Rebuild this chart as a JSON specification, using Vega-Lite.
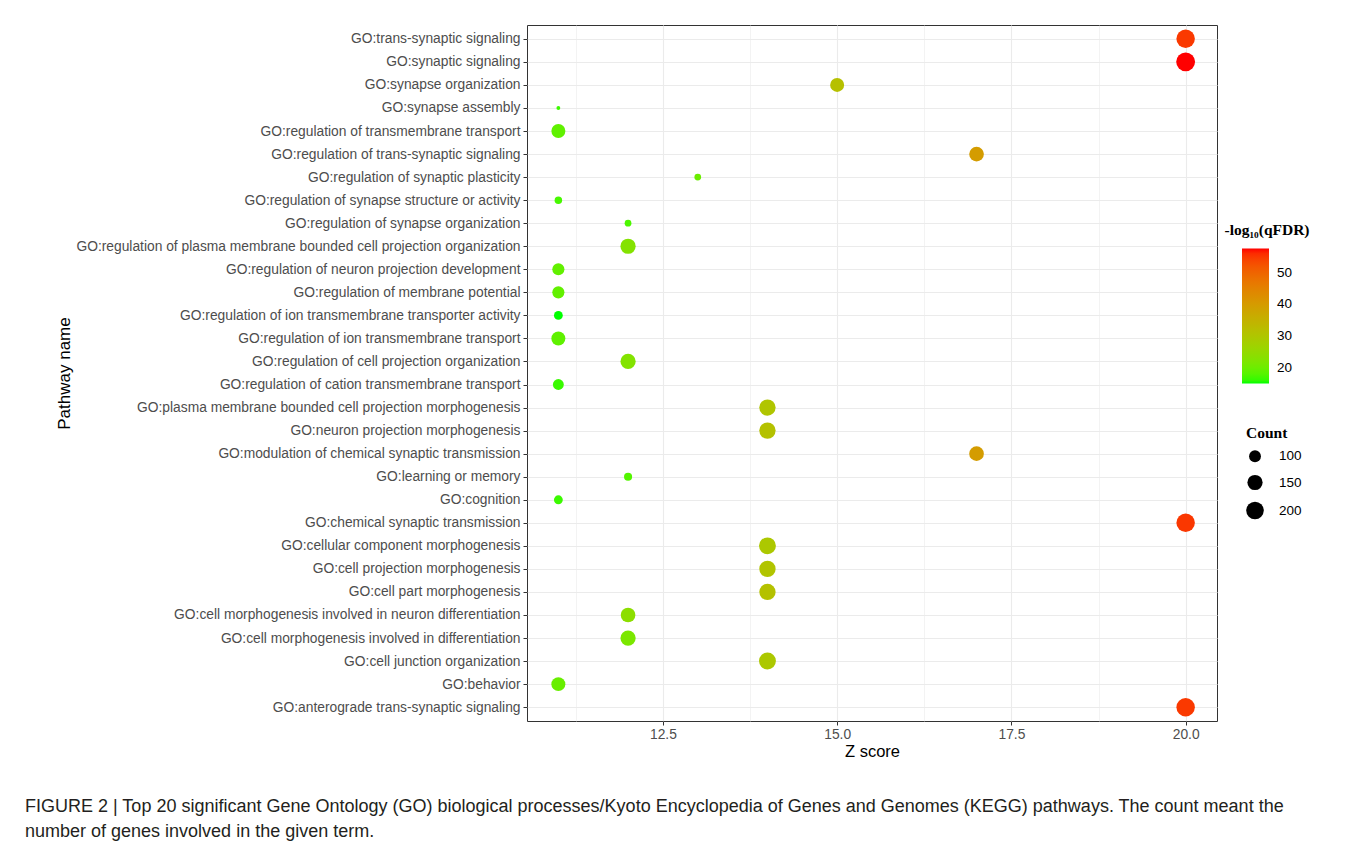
{
  "$schema": "https://vega.github.io/schema/vega-lite/v6.json",
  "width": 690,
  "height": 696,
  "autosize": "none",
  "padding": {"left": 527, "top": 25, "right": 138, "bottom": 128},
  "background": "white",
  "title": {
    "text": ["FIGURE 2 | Top 20 significant Gene Ontology (GO) biological processes/Kyoto Encyclopedia of Genes and Genomes (KEGG) pathways. The count meant the", "number of genes involved in the given term."],
    "orient": "bottom",
    "anchor": "start",
    "frame": "group",
    "dx": -502,
    "offset": 38,
    "font": "Liberation Sans Narrow, Liberation Sans",
    "fontSize": 18,
    "fontWeight": "normal",
    "color": "#231f20",
    "lineHeight": 25
  },
  "data": {
    "values": [
      {"name": "GO:trans-synaptic signaling", "z": 20, "count": 224, "q": 55.0},
      {"name": "GO:synaptic signaling", "z": 20, "count": 236, "q": 57.6},
      {"name": "GO:synapse organization", "z": 15, "count": 129, "q": 31.5},
      {"name": "GO:synapse assembly", "z": 11, "count": 47, "q": 16.5},
      {"name": "GO:regulation of transmembrane transport", "z": 11, "count": 129, "q": 18.8},
      {"name": "GO:regulation of trans-synaptic signaling", "z": 17, "count": 140, "q": 39.7},
      {"name": "GO:regulation of synaptic plasticity", "z": 13, "count": 58, "q": 19.8},
      {"name": "GO:regulation of synapse structure or activity", "z": 11, "count": 62, "q": 17.0},
      {"name": "GO:regulation of synapse organization", "z": 12, "count": 58, "q": 17.3},
      {"name": "GO:regulation of plasma membrane bounded cell projection organization", "z": 12, "count": 150, "q": 22.7},
      {"name": "GO:regulation of neuron projection development", "z": 11, "count": 103, "q": 19.0},
      {"name": "GO:regulation of membrane potential", "z": 11, "count": 103, "q": 19.0},
      {"name": "GO:regulation of ion transmembrane transporter activity", "z": 11, "count": 71, "q": 15.0},
      {"name": "GO:regulation of ion transmembrane transport", "z": 11, "count": 129, "q": 18.7},
      {"name": "GO:regulation of cell projection organization", "z": 12, "count": 150, "q": 22.6},
      {"name": "GO:regulation of cation transmembrane transport", "z": 11, "count": 89, "q": 16.3},
      {"name": "GO:plasma membrane bounded cell projection morphogenesis", "z": 14, "count": 172, "q": 30.3},
      {"name": "GO:neuron projection morphogenesis", "z": 14, "count": 172, "q": 31.2},
      {"name": "GO:modulation of chemical synaptic transmission", "z": 17, "count": 140, "q": 39.7},
      {"name": "GO:learning or memory", "z": 12, "count": 66, "q": 17.8},
      {"name": "GO:cognition", "z": 11, "count": 71, "q": 16.4},
      {"name": "GO:chemical synaptic transmission", "z": 20, "count": 224, "q": 55.2},
      {"name": "GO:cellular component morphogenesis", "z": 14, "count": 185, "q": 29.5},
      {"name": "GO:cell projection morphogenesis", "z": 14, "count": 172, "q": 30.4},
      {"name": "GO:cell part morphogenesis", "z": 14, "count": 172, "q": 31.2},
      {"name": "GO:cell morphogenesis involved in neuron differentiation", "z": 12, "count": 140, "q": 23.8},
      {"name": "GO:cell morphogenesis involved in differentiation", "z": 12, "count": 150, "q": 21.6},
      {"name": "GO:cell junction organization", "z": 14, "count": 185, "q": 29.5},
      {"name": "GO:behavior", "z": 11, "count": 129, "q": 19.5},
      {"name": "GO:anterograde trans-synaptic signaling", "z": 20, "count": 224, "q": 55.0}
    ]
  },
  "mark": {"type": "circle", "opacity": 1, "strokeWidth": 0},
  "encoding": {
    "x": {
      "field": "z",
      "type": "quantitative",
      "scale": {"domain": [10.55, 20.45], "nice": false, "zero": false},
      "axis": {
        "title": "Z score",
        "values": [11.25, 12.5, 13.75, 15, 16.25, 17.5, 18.75, 20],
        "labelExpr": "datum.value % 2.5 == 0 ? format(datum.value, '.1f') : ''",
        "tickOpacity": {"condition": {"test": "datum.value % 2.5 == 0", "value": 1}, "value": 0},
        "gridWidth": {"condition": {"test": "datum.value % 2.5 == 0", "value": 1.1}, "value": 0.6},
        "labelFlush": false,
        "labelOverlap": false
      }
    },
    "y": {
      "field": "name",
      "type": "nominal",
      "sort": [
        "GO:trans-synaptic signaling",
        "GO:synaptic signaling",
        "GO:synapse organization",
        "GO:synapse assembly",
        "GO:regulation of transmembrane transport",
        "GO:regulation of trans-synaptic signaling",
        "GO:regulation of synaptic plasticity",
        "GO:regulation of synapse structure or activity",
        "GO:regulation of synapse organization",
        "GO:regulation of plasma membrane bounded cell projection organization",
        "GO:regulation of neuron projection development",
        "GO:regulation of membrane potential",
        "GO:regulation of ion transmembrane transporter activity",
        "GO:regulation of ion transmembrane transport",
        "GO:regulation of cell projection organization",
        "GO:regulation of cation transmembrane transport",
        "GO:plasma membrane bounded cell projection morphogenesis",
        "GO:neuron projection morphogenesis",
        "GO:modulation of chemical synaptic transmission",
        "GO:learning or memory",
        "GO:cognition",
        "GO:chemical synaptic transmission",
        "GO:cellular component morphogenesis",
        "GO:cell projection morphogenesis",
        "GO:cell part morphogenesis",
        "GO:cell morphogenesis involved in neuron differentiation",
        "GO:cell morphogenesis involved in differentiation",
        "GO:cell junction organization",
        "GO:behavior",
        "GO:anterograde trans-synaptic signaling"
      ],
      "scale": {"type": "point", "padding": 0.6},
      "axis": {
        "title": "Pathway name",
        "grid": true,
        "gridWidth": 1.1,
        "titleFontSize": 17,
        "labelPadding": 3,
        "labelLimit": 600,
        "titleX": -463,
        "titleY": 348,
        "titleAngle": -90,
        "titleAlign": "center",
        "titleBaseline": "middle"
      }
    },
    "size": {
      "field": "count",
      "type": "quantitative",
      "scale": {"type": "sqrt", "domain": [46, 243], "range": [12, 366], "zero": false},
      "legend": {
        "title": "Count",
        "values": [100, 150, 200],
        "orient": "none",
        "legendX": 719,
        "legendY": 401,
        "titleAnchor": "start",
        "symbolFillColor": "black",
        "symbolStrokeColor": "black",
        "symbolStrokeWidth": 0,
        "symbolOpacity": 1,
        "labelOffset": 15,
        "rowPadding": 11,
        "titlePadding": 8
      }
    },
    "color": {
      "field": "q",
      "type": "quantitative",
      "scale": {"domain": [15, 57.6], "range": ["#00ff00", "#ff0000"], "interpolate": "lab", "zero": false, "nice": false},
      "legend": {
        "title": "-log₁₀(qFDR)",
        "values": [20, 30, 40, 50],
        "orient": "none",
        "legendX": 697,
        "legendY": 198,
        "titleAnchor": "middle",
        "gradientLength": 135,
        "gradientThickness": 27,
        "gradientStrokeWidth": 0,
        "labelOffset": 8,
        "titlePadding": 10
      }
    }
  },
  "config": {
    "font": "Liberation Sans",
    "view": {"stroke": "#333333", "strokeWidth": 1},
    "axis": {
      "domain": false,
      "gridColor": "#ebebeb",
      "tickColor": "#333333",
      "tickSize": 4,
      "tickWidth": 1,
      "labelColor": "#4d4d4d",
      "labelFontSize": 13.8,
      "labelPadding": 2,
      "titleFontSize": 16.5,
      "titleFontWeight": "normal",
      "titleColor": "black",
      "titlePadding": 3
    },
    "legend": {
      "titleFont": "Liberation Serif",
      "titleFontWeight": "bold",
      "titleFontSize": 15.5,
      "titleColor": "black",
      "labelFontSize": 13.5,
      "labelColor": "black",
      "labelFont": "Liberation Sans"
    }
  }
}
